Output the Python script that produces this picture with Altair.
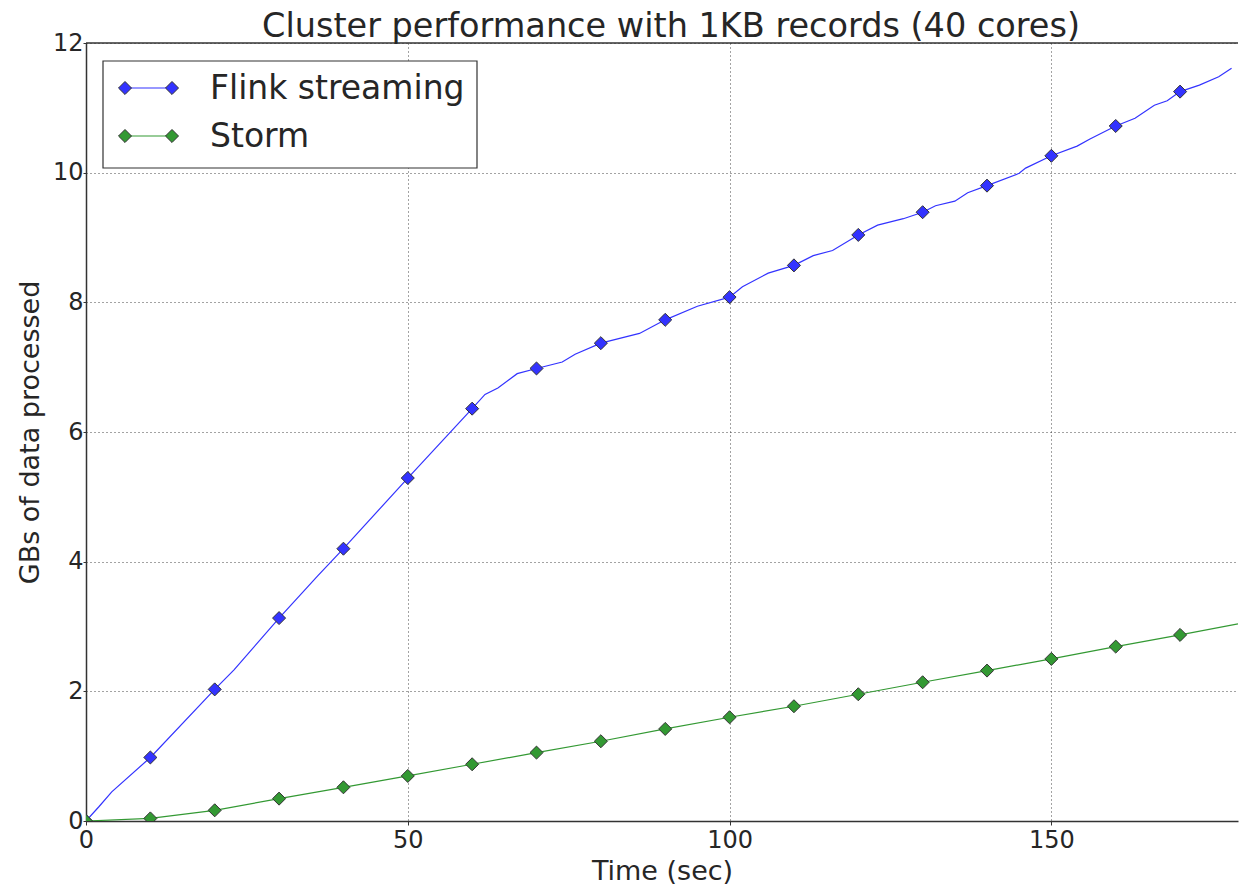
import altair as alt
import pandas as pd

# ---- data ----
series_names = ["Flink streaming", "Storm"]
series_colors = ["#3333ff", "#339933"]

flink_t = [0, 2, 4, 10, 20, 23, 30, 36, 40, 50, 60, 62, 64, 67, 70, 74, 76, 80,
           86, 90, 95, 100, 102, 106, 110, 113, 116, 120, 123, 127, 130, 132,
           135, 137, 140, 145, 146, 150, 154, 156, 160, 163, 166, 168, 170,
           173, 176, 178]
flink_v = [0.0, 0.22, 0.45, 0.98, 2.03, 2.33, 3.13, 3.78, 4.2, 5.29, 6.36, 6.58,
           6.68, 6.9, 6.98, 7.08, 7.2, 7.37, 7.52, 7.73, 7.94, 8.08, 8.24, 8.45,
           8.57, 8.72, 8.8, 9.04, 9.19, 9.29, 9.39, 9.49, 9.56, 9.69, 9.8, 9.99,
           10.07, 10.26, 10.41, 10.52, 10.72, 10.84, 11.04, 11.11, 11.25, 11.35,
           11.48, 11.61]
flink_marker_t = [0, 10, 20, 30, 40, 50, 60, 70, 80, 90, 100, 110, 120, 130,
                  140, 150, 160, 170]
flink_marker_v = [0.0, 0.98, 2.03, 3.13, 4.2, 5.29, 6.36, 6.98, 7.37, 7.73,
                  8.08, 8.57, 9.04, 9.39, 9.8, 10.26, 10.72, 11.25]

storm_t = [0, 10, 20, 30, 40, 50, 60, 70, 80, 90, 100, 110, 120, 130, 140,
           150, 160, 170, 179]
storm_v = [0.0, 0.04, 0.165, 0.345, 0.52, 0.695, 0.875, 1.055, 1.23, 1.42,
           1.6, 1.77, 1.955, 2.14, 2.32, 2.5, 2.69, 2.87, 3.04]
storm_marker_t = storm_t[:-1]
storm_marker_v = storm_v[:-1]

x_ticks = [0, 50, 100, 150]
y_ticks = [0, 2, 4, 6, 8, 10, 12]

# ---- tables ----
line_df = pd.concat([
    pd.DataFrame({"series": series_names[0], "t": flink_t, "v": flink_v}),
    pd.DataFrame({"series": series_names[1], "t": storm_t, "v": storm_v}),
])
marker_df = pd.concat([
    pd.DataFrame({"series": series_names[0], "t": flink_marker_t, "v": flink_marker_v}),
    pd.DataFrame({"series": series_names[1], "t": storm_marker_t, "v": storm_marker_v}),
])

W, H = 1152, 778
FONT = "DejaVu Sans"
TXT = "#262626"

xs = alt.Scale(domain=[0, 179], nice=False, zero=False)
ys = alt.Scale(domain=[0, 12], nice=False)

x_enc = alt.X("t:Q", scale=xs, axis=alt.Axis(values=x_ticks, title="Time (sec)",
                                              format="d", labelFlush=False))
y_enc = alt.Y("v:Q", scale=ys, axis=alt.Axis(values=y_ticks,
                                              title="GBs of data processed",
                                              format="d", labelPadding=0,
                                              tickSize=3, labelFlush=False))

layers = []
for i, name in enumerate(series_names):
    ln = alt.Chart(line_df[line_df.series == name]).mark_line(
        color=series_colors[i], strokeWidth=1.2, clip=True
    ).encode(x=x_enc, y=y_enc, order="t:Q")
    pt = alt.Chart(marker_df[marker_df.series == name]).mark_point(
        shape="diamond", filled=True, size=170, fill=series_colors[i],
        stroke="#333333", strokeWidth=1, opacity=1, clip=True
    ).encode(x="t:Q", y="v:Q")
    layers += [ln, pt]

one = pd.DataFrame({"a": [0]})

# top spine
top = alt.Chart(one).mark_rule(color="#333333", strokeWidth=1.5).encode(
    x=alt.value(0), x2=alt.value(W), y=alt.value(0)
)

# legend (hand built to mirror the reference's legend box)
legend_layers = [
    alt.Chart(one).mark_rect(fill="white", stroke="#333333", strokeWidth=1.2).encode(
        x=alt.value(17), x2=alt.value(391), y=alt.value(18), y2=alt.value(125)
    )
]
row_y = [45, 93]
for i, name in enumerate(series_names):
    legend_layers.append(
        alt.Chart(one).mark_rule(color=series_colors[i], strokeWidth=1.2).encode(
            x=alt.value(39), x2=alt.value(86), y=alt.value(row_y[i])
        )
    )
    for sx in (39, 86):
        legend_layers.append(
            alt.Chart(one).mark_point(
                shape="diamond", filled=True, size=170, fill=series_colors[i],
                stroke="#333333", strokeWidth=1, opacity=1
            ).encode(x=alt.value(sx), y=alt.value(row_y[i]))
        )
    legend_layers.append(
        alt.Chart(pd.DataFrame({"label": [name]})).mark_text(
            align="left", baseline="middle", font=FONT, fontSize=33, color=TXT
        ).encode(x=alt.value(124), y=alt.value(row_y[i] + 1), text="label:N")
    )

chart = alt.layer(*layers, top, *legend_layers).properties(
    width=W, height=H,
    title=alt.TitleParams(
        "Cluster performance with 1KB records (40 cores)",
        font=FONT, fontSize=33.5, fontWeight="normal", color=TXT,
        anchor="middle", offset=5, dy=18, dx=9,
    ),
    autosize=alt.AutoSizeParams(type="none"),
    padding={"left": 86, "top": 43, "right": 1, "bottom": 67},
).configure_view(stroke=None).configure_axis(
    labelFont=FONT, labelFontSize=24, labelColor=TXT,
    titleFont=FONT, titleFontSize=27, titleFontWeight="normal", titleColor=TXT,
    domainColor="#333333", domainWidth=1.5,
    tickColor="#333333", tickSize=4, tickWidth=1,
    grid=True, gridColor="#333333", gridDash=[1, 3], gridWidth=1, gridOpacity=0.9,
    labelPadding=3,
).configure_axisX(titlePadding=6).configure_axisY(titlePadding=8)

chart.save("out.html", embed_options={"renderer": "svg", "actions": False})
